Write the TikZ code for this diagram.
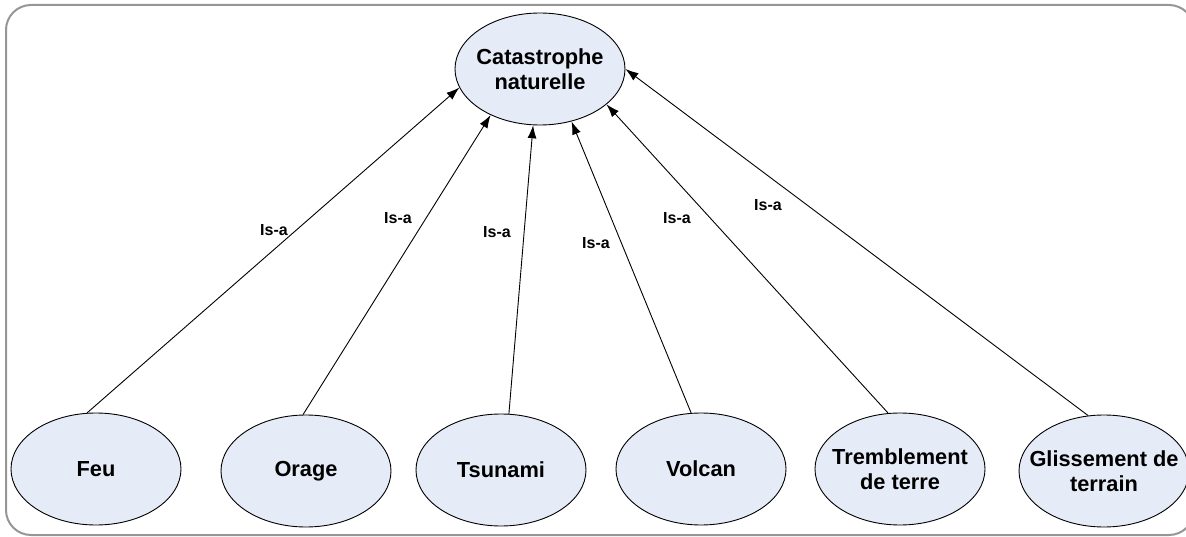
\documentclass[tikz,border=0pt]{standalone}
\usepackage{fontspec}
\setmainfont{Liberation Sans}
\usetikzlibrary{shapes.geometric,arrows.meta}
\definecolor{nodefill}{RGB}{230,236,247}
\definecolor{framegray}{RGB}{150,150,150}
\tikzset{
  concept/.style={ellipse, draw=black, line width=0.9pt, fill=nodefill,
    minimum width=170pt, minimum height=112pt, inner xsep=-25pt, inner ysep=0pt,
    align=center, font=\fontsize{21.8}{25.5}\selectfont\bfseries},
  isa/.style={draw=black, line width=0.9pt, -{Latex[length=13pt,width=9pt]}},
  isalabel/.style={font=\fontsize{16}{18}\selectfont\bfseries, inner sep=0pt}
}
\begin{document}
\begin{tikzpicture}[x=1pt,y=-1pt]
  \useasboundingbox (0,0) rectangle (1186,537);
  % outer frame
  \draw[framegray, line width=2pt, rounded corners=25pt] (6,5) rectangle (1194,535);

  % concepts
  \node[concept] (cat) at (540,69) {Catastrophe\\naturelle};
  \node[concept] (feu) at (96,469) {Feu};
  \node[concept] (orage) at (306,471) {Orage};
  \node[concept] (tsunami) at (501,470) {Tsunami};
  \node[concept] (volcan) at (701,469) {Volcan};
  \node[concept] (tremb) at (900,469) {Tremblement\\de terre};
  \node[concept] (gliss) at (1104,471) {Glissement de\\terrain};

  % is-a relations
  \draw[isa] (feu.99) -- (cat.193);
  \draw[isa] (orage.93) -- (cat.223);
  \draw[isa] (tsunami.82) -- (cat.263);
  \draw[isa] (volcan.100) -- (cat.301);
  \draw[isa] (tremb.102) -- (cat.332);
  \draw[isa] (gliss.106) -- (cat.0);

  % relation labels
  \node[isalabel] (l1) at (274,230) {Is-a};
  \node[isalabel] (l2) at (398,218) {Is-a};
  \node[isalabel] (l3) at (497,232) {Is-a};
  \node[isalabel] (l4) at (596,243) {Is-a};
  \node[isalabel] (l5) at (677,218) {Is-a};
  \node[isalabel] (l6) at (768,205) {Is-a};
\end{tikzpicture}
\end{document}
